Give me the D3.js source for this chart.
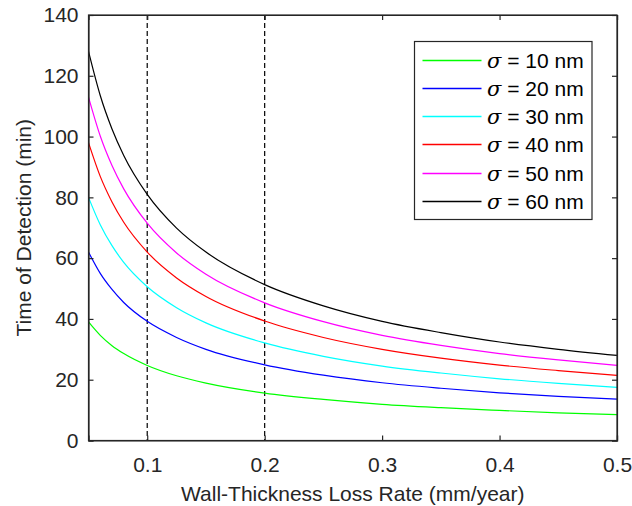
<!DOCTYPE html>
<html><head><meta charset="utf-8">
<script src="https://cdn.jsdelivr.net/npm/d3@7"></script>
<style>body{margin:0;background:#fff}svg{display:block}text{font-family:"Liberation Sans",Arial,Helvetica,sans-serif}</style>
</head><body><svg id="c" width="632" height="506"></svg>
<script>
const rates = [0.05, 0.06, 0.07, 0.08, 0.1, 0.125, 0.15, 0.2, 0.25, 0.3, 0.35, 0.4, 0.45, 0.5];
const s10 = [39, 34.6, 31.2, 28.6, 24.7, 21.3, 18.9, 15.6, 13.5, 11.9, 10.8, 9.9, 9.1, 8.5];
const s20 = [62, 55.0, 49.7, 45.4, 39.2, 33.9, 30.0, 24.9, 21.5, 19.0, 17.2, 15.7, 14.5, 13.6];
const s30 = [80, 71.0, 64.1, 58.6, 50.6, 43.7, 38.7, 32.1, 27.7, 24.5, 22.2, 20.3, 18.8, 17.5];
const s40 = [98, 86.9, 78.5, 71.8, 62.0, 53.5, 47.4, 39.3, 33.9, 30.0, 27.1, 24.8, 23.0, 21.4];
const s50 = [113, 100.2, 90.5, 82.8, 71.5, 61.7, 54.7, 45.3, 39.1, 34.6, 31.3, 28.6, 26.5, 24.7];
const s60 = [128, 113.5, 102.5, 93.8, 81.0, 69.9, 62.0, 51.3, 44.3, 39.2, 35.5, 32.4, 30.0, 28.0];
const seriesNames = ["σ = 10 nm","σ = 20 nm","σ = 30 nm","σ = 40 nm","σ = 50 nm","σ = 60 nm"];
const seriesColors = ["#00ff00","#0000ff","#00ffff","#ff0000","#ff00ff","#000000"];
const xTicks = [0.1, 0.2, 0.3, 0.4, 0.5];
const yTicks = [0, 20, 40, 60, 80, 100, 120, 140];
const dashedAt = [0.1, 0.2];
const xLabel = "Wall-Thickness Loss Rate (mm/year)";
const yLabel = "Time of Detection (min)";

const allSeries = [s10, s20, s30, s40, s50, s60];
const L = 88.5, R = 617, T = 15, B = 440.5;
const svg = d3.select("#c");
const x = d3.scaleLinear().domain([0.05, 0.5]).range([L, R]);
const y = d3.scaleLinear().domain([0, 140]).range([B, T]);
const axCol = "#262626";
const FS = 21;

dashedAt.forEach(v => {
  svg.append("line").attr("x1", x(v)).attr("x2", x(v)).attr("y1", T).attr("y2", B)
    .attr("stroke", "#000").attr("stroke-width", 1.2).attr("stroke-dasharray", "5,3");
});

const line = d3.line().x((d,i) => x(rates[i])).y(d => y(d)).curve(d3.curveMonotoneX);
allSeries.forEach((s, k) => {
  svg.append("path").attr("d", line(s)).attr("fill", "none")
    .attr("stroke", seriesColors[k]).attr("stroke-width", 1.2);
});

const fmtX = d3.format(".1f");
const bx = svg.append("g").attr("transform", `translate(0,${B})`)
  .call(d3.axisBottom(x).tickValues(xTicks).tickSize(-5).tickPadding(17).tickFormat(fmtX));
const tx = svg.append("g").attr("transform", `translate(0,${T})`)
  .call(d3.axisTop(x).tickValues(xTicks).tickSize(-5).tickFormat(""));
const ly = svg.append("g").attr("transform", `translate(${L},0)`)
  .call(d3.axisLeft(y).tickValues(yTicks).tickSize(-5).tickPadding(10));
const ry = svg.append("g").attr("transform", `translate(${R},0)`)
  .call(d3.axisRight(y).tickValues(yTicks).tickSize(-5).tickFormat(""));
[bx, tx, ly, ry].forEach(g => {
  g.select(".domain").attr("stroke", axCol).attr("stroke-width", 1.2);
  g.selectAll(".tick line").attr("stroke", axCol).attr("stroke-width", 1.2);
  g.selectAll(".tick text").attr("fill", axCol).attr("font-size", FS)
    .style("font-family", '"Liberation Sans",Arial,sans-serif');
});
svg.append("rect").attr("x", L).attr("y", T).attr("width", R - L).attr("height", B - T)
  .attr("fill", "none").attr("stroke", axCol).attr("stroke-width", 1.2);

svg.append("text").attr("x", (L + R) / 2).attr("y", 501).attr("text-anchor", "middle")
  .attr("font-size", FS).attr("fill", axCol).text(xLabel);
svg.append("text").attr("transform", `translate(31,${(T + B) / 2}) rotate(-90)`)
  .attr("text-anchor", "middle").attr("font-size", FS).attr("fill", axCol).text(yLabel);

const lg = svg.append("g");
lg.append("rect").attr("x", 414.5).attr("y", 41.5).attr("width", 177.5).attr("height", 178)
  .attr("fill", "#fff").attr("stroke", axCol).attr("stroke-width", 1.2);
seriesNames.forEach((n, k) => {
  const yy = Math.round(59.5 + k * 28.3) + 0.5;
  lg.append("line").attr("x1", 422.5).attr("x2", 481.5).attr("y1", yy).attr("y2", yy)
    .attr("stroke", seriesColors[k]).attr("stroke-width", 1.3);
  const t = lg.append("text").attr("x", 487).attr("y", yy + 7.5).attr("font-size", FS).attr("fill", "#000");
  t.append("tspan").attr("font-style", "italic").attr("font-family", "DejaVu Serif, serif").text("σ");
  t.append("tspan").text(n.slice(1));
});
</script></body></html>
